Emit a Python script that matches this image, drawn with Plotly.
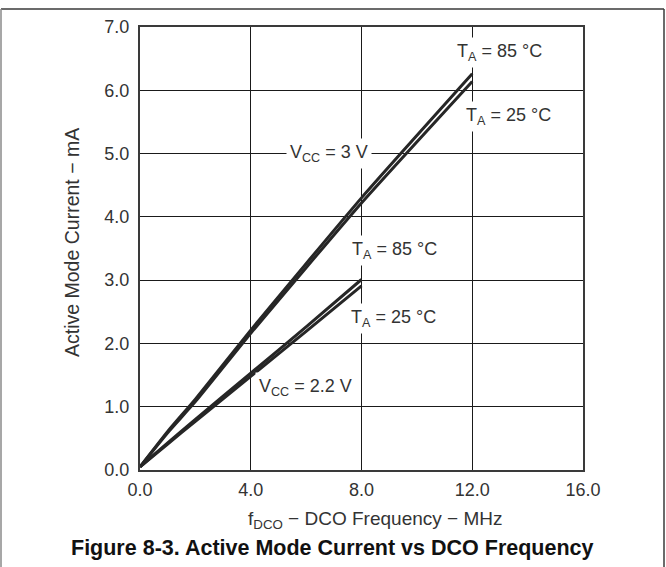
import plotly.graph_objects as go

# Data
x_3v = [0.0, 1.0, 2.0, 4.0, 8.0, 12.0]
y_3v_85 = [0.05, 0.61, 1.12, 2.21, 4.30, 6.26]
y_3v_25 = [0.05, 0.59, 1.08, 2.16, 4.22, 6.14]

x_22v = [0.0, 1.0, 2.0, 4.0, 6.0, 8.0]
y_22v_85 = [0.05, 0.43, 0.80, 1.53, 2.26, 3.01]
y_22v_25 = [0.05, 0.41, 0.77, 1.48, 2.19, 2.91]

x_ticks = [0, 4, 8, 12, 16]
y_ticks = [0, 1, 2, 3, 4, 5, 6, 7]

FONT = "Liberation Sans, Arial, sans-serif"
TXT = "#333333"
LINE = "#262626"

fig = go.Figure()
for xs, ys, name in [(x_3v, y_3v_85, "VCC=3V 85C"), (x_3v, y_3v_25, "VCC=3V 25C"),
                     (x_22v, y_22v_85, "VCC=2.2V 85C"), (x_22v, y_22v_25, "VCC=2.2V 25C")]:
    fig.add_trace(go.Scatter(x=xs, y=ys, mode="lines", name=name,
                             line=dict(color=LINE, width=3, shape="spline", smoothing=0.5),
                             showlegend=False, hoverinfo="skip"))

W, H = 666, 567
L, R, T, B = 140, 83, 27, 97

fig.update_layout(
    width=W, height=H,
    margin=dict(l=L, r=R, t=T, b=B),
    paper_bgcolor="white", plot_bgcolor="white",
    font=dict(family=FONT, size=18, color=TXT),
    showlegend=False,
)
fig.update_xaxes(range=[0, 16], tickvals=x_ticks, ticktext=[f"{v:.1f}" for v in x_ticks],
                 showgrid=True, gridcolor="#1a1a1a", gridwidth=1,
                 showline=True, linecolor="#3a3a3a", linewidth=2, mirror=True,
                 ticks="outside", ticklen=2, tickcolor="rgba(0,0,0,0)",
                 zeroline=False, tickfont=dict(size=18, color=TXT))
fig.update_yaxes(range=[0, 7], tickvals=y_ticks, ticktext=[f"{v:.1f}" for v in y_ticks],
                 showgrid=True, gridcolor="#1a1a1a", gridwidth=1,
                 showline=True, linecolor="#3a3a3a", linewidth=2, mirror=True,
                 ticks="outside", ticklen=5, tickcolor="rgba(0,0,0,0)",
                 zeroline=False, tickfont=dict(size=18, color=TXT))

pw, ph = W - L - R, H - T - B

def px2paper_x(px):
    return (px - L) / pw

def px2paper_y(py):
    return (H - B - py) / ph

# Outer figure frame
fx0, fx1 = px2paper_x(1), px2paper_x(664)
fy0, fy1 = px2paper_y(600), px2paper_y(9)
fig.add_shape(type="line", xref="paper", yref="paper", x0=fx0, x1=fx1, y0=fy1, y1=fy1,
              line=dict(color="#3a3a3a", width=1.5))
fig.add_shape(type="line", xref="paper", yref="paper", x0=fx0, x1=fx0, y0=fy0, y1=fy1,
              line=dict(color="#8a8a8a", width=1.5))
fig.add_shape(type="line", xref="paper", yref="paper", x0=fx1, x1=fx1, y0=fy0, y1=fy1,
              line=dict(color="#3a3a3a", width=1.5))

labels = [
    (13.0, 6.59, "T<sub>A</sub> = 85 °C"),
    (13.3, 5.58, "T<sub>A</sub> = 25 °C"),
    (6.83, 5.0, "V<sub>CC</sub> = 3 V"),
    (9.2, 3.47, "T<sub>A</sub> = 85 °C"),
    (9.17, 2.40, "T<sub>A</sub> = 25 °C"),
    (5.98, 1.31, "V<sub>CC</sub> = 2.2 V"),
]
for x, y, t in labels:
    fig.add_annotation(x=x, y=y, xref="x", yref="y", text=t, showarrow=False,
                       xanchor="center", yanchor="middle",
                       bgcolor="white", borderpad=3,
                       font=dict(family=FONT, size=18, color=TXT))

# Axis titles
fig.add_annotation(xref="paper", yref="paper", x=px2paper_x(375), y=px2paper_y(520),
                   xanchor="center", yanchor="middle",
                   text="f<sub>DCO</sub> − DCO Frequency − MHz", showarrow=False,
                   font=dict(family=FONT, size=19, color=TXT))
fig.add_annotation(xref="paper", yref="paper", x=px2paper_x(72), y=px2paper_y(243),
                   xanchor="center", yanchor="middle",
                   text="Active Mode Current − mA", showarrow=False, textangle=-90,
                   font=dict(family=FONT, size=19.5, color=TXT))
# Caption
fig.add_annotation(xref="paper", yref="paper", x=px2paper_x(332), y=px2paper_y(548),
                   xanchor="center", yanchor="middle",
                   text="<b>Figure 8-3. Active Mode Current vs DCO Frequency</b>", showarrow=False,
                   font=dict(family=FONT, size=21.5, color="#111111"))

fig.write_html("out.html", config={"displayModeBar": False},
               post_script="document.body.style.margin='0';document.body.style.overflow='hidden';")
